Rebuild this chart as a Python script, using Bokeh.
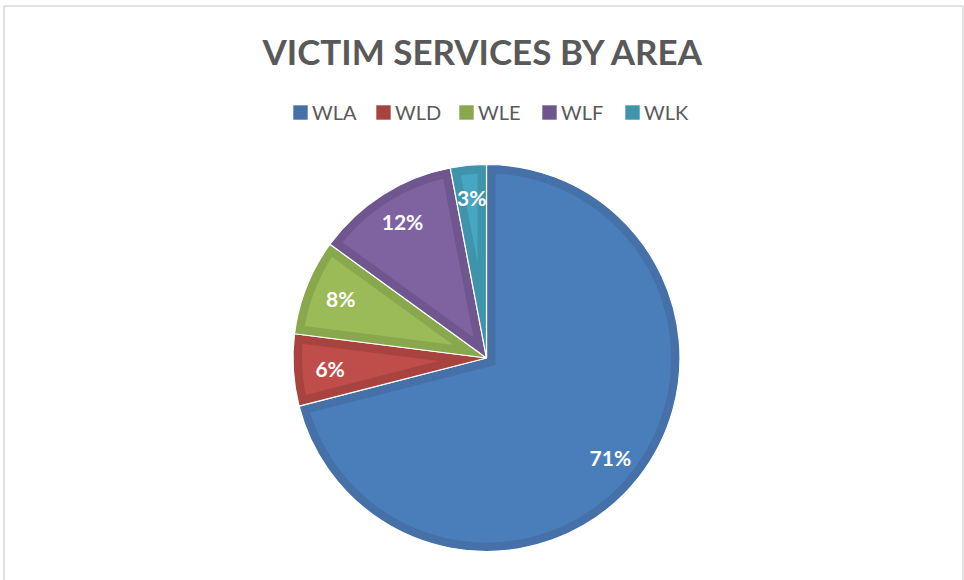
import numpy as np
from bokeh.plotting import figure
from bokeh.models import ColumnDataSource, Label, Legend, LegendItem
from bokeh.embed import file_html
from bokeh.resources import INLINE
from bokeh.core.properties import value

# ---- data ----
areas = ["WLA", "WLD", "WLE", "WLF", "WLK"]
shares = [71, 6, 8, 12, 3]
pct_labels = ["71%", "6%", "8%", "12%", "3%"]
title_text = "VICTIM SERVICES BY AREA"

# ---- styling ----
fill_colors = ["#4A7EBB", "#BF4D4A", "#9BBB59", "#7F63A1", "#47A7C2"]
edge_colors = ["#4571A8", "#A8433F", "#89A84E", "#6F568F", "#3F94AB"]

W, H = 964, 580
cx, cy = 486, 222.5
R = 193.5
inset = 9

vals = np.array(shares, float)
frac = vals / vals.sum()
sweep = frac * 2 * np.pi
cum = np.cumsum(sweep)
start = np.pi / 2 - (cum - sweep)
end = np.pi / 2 - cum
mid = start - sweep / 2

# inner (lighter) polygons inset from each wedge's edges
xs, ys = [], []
r_in = R - inset
for a0, a1, sw in zip(start, end, sweep):
    half = sw / 2
    b = a0 - half
    d = inset / np.sin(half)
    vx, vy = cx + d * np.cos(b), cy + d * np.sin(b)
    px, py = vx - cx, vy - cy

    def hit(a):
        ux, uy = np.cos(a), np.sin(a)
        bq = px * ux + py * uy
        cq = px * px + py * py - r_in * r_in
        t = -bq + np.sqrt(bq * bq - cq)
        return np.arctan2(py + t * uy, px + t * ux)

    t0, t1 = hit(a0), hit(a1)
    dt = (t0 - t1) % (2 * np.pi)
    th = t0 - np.linspace(0, dt, 240)
    xs.append([vx] + list(cx + r_in * np.cos(th)))
    ys.append([vy] + list(cy + r_in * np.sin(th)))

nan = [np.nan] * len(areas)
src = ColumnDataSource(dict(area=areas, start=start, end=end,
                            fill=fill_colors, edge=edge_colors,
                            xs=xs, ys=ys, label=pct_labels, nan=nan,
                            lx=cx + 0.81 * R * np.cos(mid),
                            ly=cy + 0.835 * R * np.sin(mid)))

p = figure(width=W, height=H, x_range=(0, W), y_range=(0, H),
           output_backend="svg", toolbar_location=None, min_border=0,
           background_fill_color="white", border_fill_color="white")
p.axis.visible = False
p.grid.visible = False
p.outline_line_color = None

# chart border
p.quad(left=[3.5], right=[962.5], bottom=[-20], top=[574.5],
       fill_color=None, line_color="#D9D9D9", line_width=1.5)

p.wedge(x=cx, y=cy, radius=R, start_angle="start", end_angle="end",
        direction="clock", fill_color="edge", line_color="white",
        line_width=1.2, source=src)
p.patches(xs="xs", ys="ys", fill_color="fill", line_color=None, source=src)

p.text(x="lx", y="ly", text="label", source=src, text_color="white",
       text_font=value("Lato"), text_font_style="bold", text_font_size="21px",
       text_align="center", text_baseline="middle")

p.add_layout(Label(x=W / 2 + 1, y=H - 50, x_units="screen", y_units="screen",
                   text=title_text, text_font="Lato", text_font_style="bold",
                   text_font_size="35px", text_color="#595959",
                   text_align="center", text_baseline="middle"))

# legend swatches (renderer carries only colours; no visible marks)
swatch = p.quad(left="nan", right="nan", bottom="nan", top="nan",
                fill_color="edge", line_color=None, source=src)

items = [LegendItem(label=a, renderers=[swatch], index=i) for i, a in enumerate(areas)]
legend = Legend(items=items, orientation="horizontal", location=(291, 456),
                glyph_width=18, glyph_height=18, label_width=62,
                label_standoff=3, spacing=0, padding=0, margin=0,
                label_text_font="Lato", label_text_font_size="20px",
                label_text_color="#595959", border_line_color=None,
                background_fill_alpha=0)
p.add_layout(legend)

open("out.html", "w").write(file_html(p, INLINE))
